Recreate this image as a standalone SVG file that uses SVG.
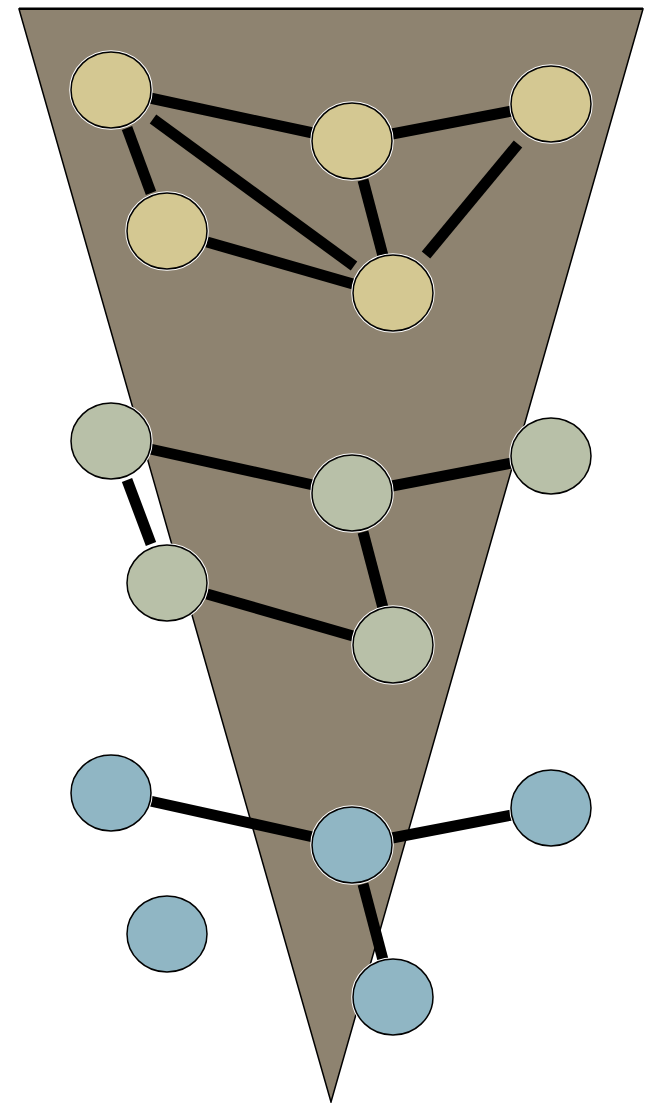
<svg xmlns="http://www.w3.org/2000/svg" width="653" height="1103" viewBox="0 0 653 1103">
  <style>
    .bg { fill: #8e8370; stroke: #000; stroke-width: 1.5; stroke-linejoin: miter; }
    .top { stroke: #000; stroke-width: 2.6; }
    .edge { stroke: #000; stroke-width: 11; stroke-linecap: butt; fill: none; }
    .halo { fill: none; stroke: #fff; stroke-width: 3.5; }
    .node { stroke: #000; stroke-width: 1.5; }
    .yellow { fill: #d4c892; }
    .green { fill: #b8c0a8; }
    .blue { fill: #90b6c4; }
  </style>

  <!-- funnel backdrop -->
  <g id="funnel">
    <polygon class="bg" points="19,9 643,9 331,1102"/>
    <line class="top" x1="19" y1="8.7" x2="643" y2="8.7"/>
  </g>

  <!-- connectors -->
  <g id="connectors">
    <!-- top cluster -->
    <line class="edge" x1="150" y1="98" x2="313" y2="133"/>
    <line class="edge" x1="127" y1="128" x2="151" y2="193"/>
    <line class="edge" x1="153" y1="119" x2="354" y2="266"/>
    <line class="edge" x1="392" y1="134" x2="512" y2="111"/>
    <line class="edge" x1="363" y1="180" x2="383" y2="256"/>
    <line class="edge" x1="518" y1="144" x2="426" y2="255"/>
    <line class="edge" x1="207" y1="242" x2="353" y2="284"/>
    <!-- middle cluster -->
    <line class="edge" x1="150" y1="449" x2="313" y2="485"/>
    <line class="edge" x1="127" y1="480" x2="151" y2="544"/>
    <line class="edge" x1="392" y1="486" x2="512" y2="463"/>
    <line class="edge" x1="363" y1="532" x2="383" y2="608"/>
    <line class="edge" x1="207" y1="594" x2="353" y2="636"/>
    <!-- bottom cluster -->
    <line class="edge" x1="150" y1="801" x2="313" y2="837"/>
    <line class="edge" x1="392" y1="838" x2="512" y2="815"/>
    <line class="edge" x1="363" y1="884" x2="383" y2="960"/>
  </g>

  <!-- top cluster nodes -->
  <g id="y1"><ellipse class="halo" cx="111" cy="90" rx="40" ry="38"/><ellipse class="node yellow" cx="111" cy="90" rx="40" ry="38"/></g>
  <g id="y2"><ellipse class="halo" cx="352" cy="141" rx="40" ry="38"/><ellipse class="node yellow" cx="352" cy="141" rx="40" ry="38"/></g>
  <g id="y3"><ellipse class="halo" cx="551" cy="104" rx="40" ry="38"/><ellipse class="node yellow" cx="551" cy="104" rx="40" ry="38"/></g>
  <g id="y4"><ellipse class="halo" cx="167" cy="231" rx="40" ry="38"/><ellipse class="node yellow" cx="167" cy="231" rx="40" ry="38"/></g>
  <g id="y5"><ellipse class="halo" cx="393" cy="293" rx="40" ry="38"/><ellipse class="node yellow" cx="393" cy="293" rx="40" ry="38"/></g>

  <!-- middle cluster nodes -->
  <g id="g1"><ellipse class="halo" cx="111" cy="441" rx="40" ry="38"/><ellipse class="node green" cx="111" cy="441" rx="40" ry="38"/></g>
  <g id="g2"><ellipse class="halo" cx="352" cy="493" rx="40" ry="38"/><ellipse class="node green" cx="352" cy="493" rx="40" ry="38"/></g>
  <g id="g3"><ellipse class="halo" cx="551" cy="456" rx="40" ry="38"/><ellipse class="node green" cx="551" cy="456" rx="40" ry="38"/></g>
  <g id="g4"><ellipse class="halo" cx="167" cy="583" rx="40" ry="38"/><ellipse class="node green" cx="167" cy="583" rx="40" ry="38"/></g>
  <g id="g5"><ellipse class="halo" cx="393" cy="645" rx="40" ry="38"/><ellipse class="node green" cx="393" cy="645" rx="40" ry="38"/></g>

  <!-- bottom cluster nodes -->
  <g id="b1"><ellipse class="halo" cx="111" cy="793" rx="40" ry="38"/><ellipse class="node blue" cx="111" cy="793" rx="40" ry="38"/></g>
  <g id="b2"><ellipse class="halo" cx="352" cy="845" rx="40" ry="38"/><ellipse class="node blue" cx="352" cy="845" rx="40" ry="38"/></g>
  <g id="b3"><ellipse class="halo" cx="551" cy="808" rx="40" ry="38"/><ellipse class="node blue" cx="551" cy="808" rx="40" ry="38"/></g>
  <g id="b4"><ellipse class="halo" cx="167" cy="934" rx="40" ry="38"/><ellipse class="node blue" cx="167" cy="934" rx="40" ry="38"/></g>
  <g id="b5"><ellipse class="halo" cx="393" cy="997" rx="40" ry="38"/><ellipse class="node blue" cx="393" cy="997" rx="40" ry="38"/></g>
</svg>
